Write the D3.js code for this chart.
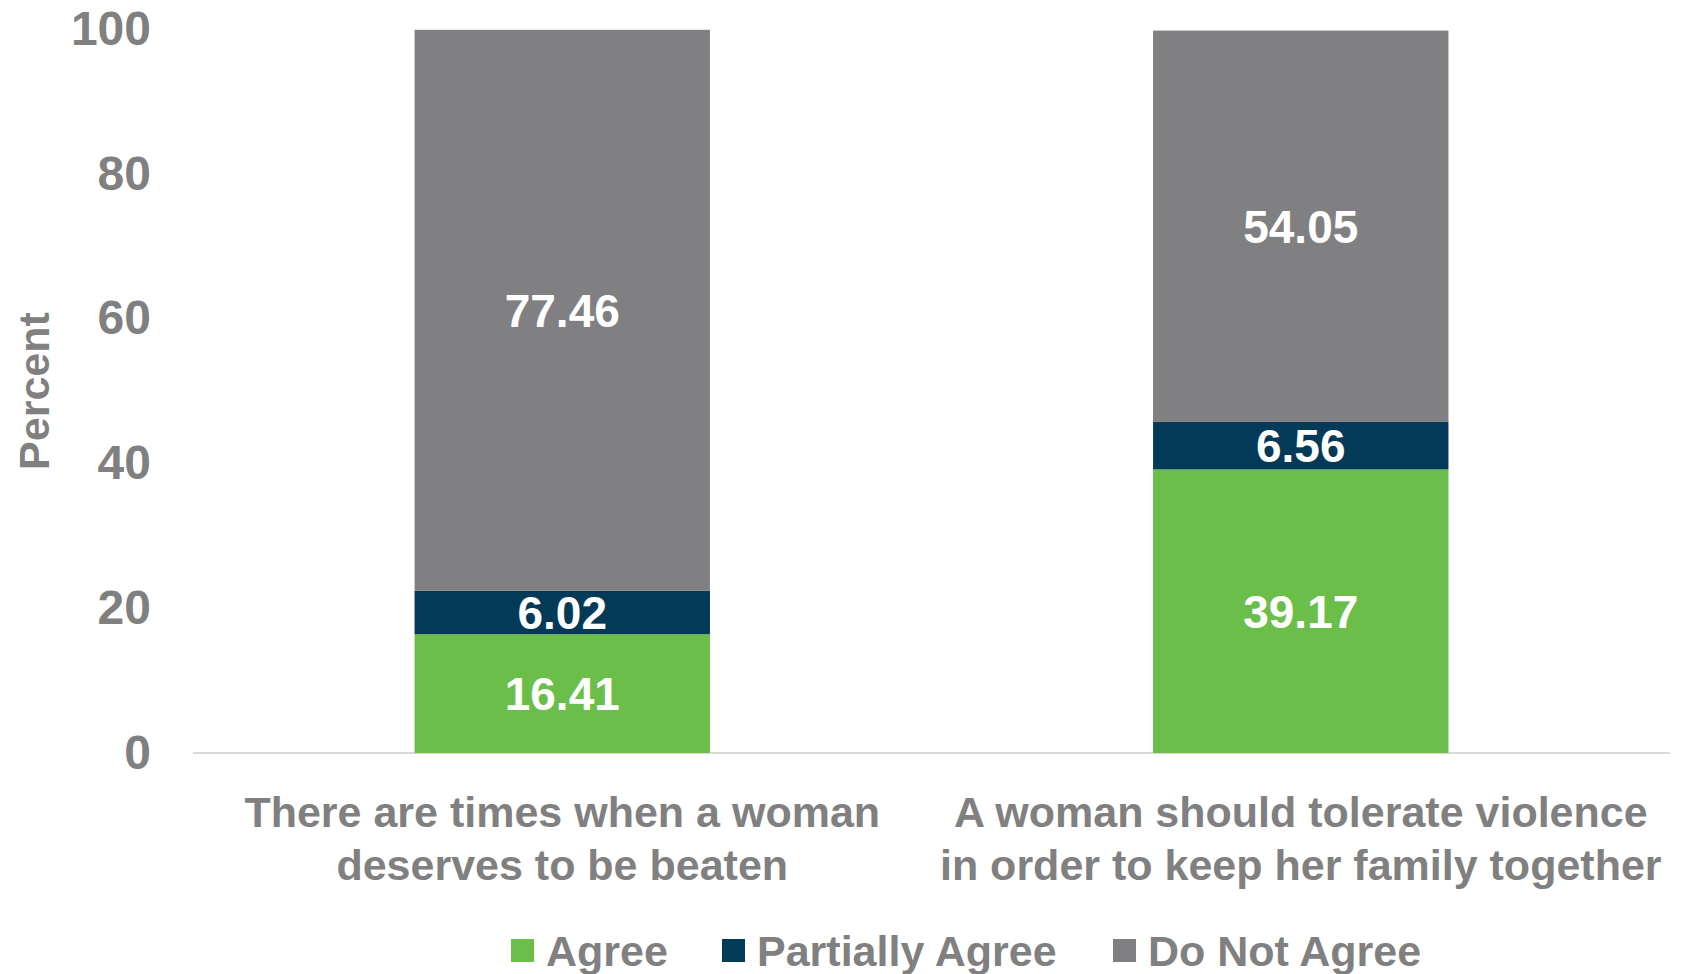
<!DOCTYPE html>
<html>
<head>
<meta charset="utf-8">
<script src="https://cdn.jsdelivr.net/npm/d3@7"></script>
<style>
  body { margin: 0; background: #fff; }
  svg text { font-family: "Liberation Sans", Arial, sans-serif; }
</style>
</head>
<body>
<div id="chart"></div>
<script>
// data
var categories = [
  ["There are times when a woman", "deserves to be beaten"],
  ["A woman should tolerate violence", "in order to keep her family together"]
];
var seriesNames = ["Agree", "Partially Agree", "Do Not Agree"];
var agree = [16.41, 39.17];
var partially = [6.02, 6.56];
var notAgree = [77.46, 54.05];
var yTicks = [0, 20, 40, 60, 80, 100];

var colors = ["#6cbe4b", "#033a57", "#808082"];
var textGray = "#808080";

var width = 1684, height = 974;
var margin = {left: 193, right: 14, top: 29, bottom: 221};

var svg = d3.select("#chart").append("svg")
  .attr("width", width)
  .attr("height", height);

var x = d3.scaleBand()
  .domain(d3.range(categories.length))
  .range([margin.left, width - margin.right])
  .paddingInner(0.6)
  .paddingOuter(0.3);

var y = d3.scaleLinear()
  .domain([0, 100])
  .range([height - margin.bottom, margin.top]);

// stacked table
var table = categories.map(function(c, i){
  return {i: i, "Agree": agree[i], "Partially Agree": partially[i], "Do Not Agree": notAgree[i]};
});
var stacked = d3.stack().keys(seriesNames)(table);

// baseline
svg.append("line")
  .attr("x1", margin.left)
  .attr("x2", width - margin.right)
  .attr("y1", y(0))
  .attr("y2", y(0))
  .attr("stroke", "#d9d9d9")
  .attr("stroke-width", 2);

// y axis labels only
var yAxis = d3.axisLeft(y).tickValues(yTicks).tickSize(0).tickPadding(0);
var yg = svg.append("g")
  .attr("transform", "translate(" + 151 + ",0)")
  .call(yAxis);
yg.select(".domain").remove();
yg.selectAll("text")
  .attr("fill", textGray)
  .style("font-size", "48px")
  .style("font-weight", "bold");

// y title
svg.append("text")
  .attr("transform", "translate(49," + y(50) + ") rotate(-90)")
  .attr("text-anchor", "middle")
  .attr("fill", textGray)
  .style("font-size", "43px")
  .style("font-weight", "bold")
  .text("Percent");

// bars
var layers = svg.selectAll(".layer").data(stacked).enter().append("g")
  .attr("class", "layer")
  .attr("fill", function(d, k){ return colors[k]; });

layers.selectAll("rect").data(function(d){ return d; }).enter().append("rect")
  .attr("x", function(d){ return x(d.data.i); })
  .attr("width", x.bandwidth())
  .attr("y", function(d){ return y(d[1]); })
  .attr("height", function(d){ return y(d[0]) - y(d[1]); });

// value labels
layers.selectAll("text").data(function(d){ return d; }).enter().append("text")
  .attr("x", function(d){ return x(d.data.i) + x.bandwidth() / 2; })
  .attr("y", function(d){ return y((d[0] + d[1]) / 2); })
  .attr("dy", "0.36em")
  .attr("text-anchor", "middle")
  .attr("fill", "#fff")
  .style("font-size", "46px")
  .style("font-weight", "bold")
  .text(function(d){ return (d[1] - d[0]).toFixed(2); });

// category labels
var catG = svg.selectAll(".cat").data(categories).enter().append("text")
  .attr("class", "cat")
  .attr("text-anchor", "middle")
  .attr("fill", textGray)
  .style("font-size", "43px")
  .style("font-weight", "bold");
catG.selectAll("tspan").data(function(d, i){ return d.map(function(s){ return {s: s, i: i}; }); })
  .enter().append("tspan")
  .attr("x", function(d){ return x(d.i) + x.bandwidth() / 2; })
  .attr("y", function(d, j){ return y(0) + 74 + j * 53; })
  .text(function(d){ return d.s; });

// legend
var legendX = [511, 722, 1113];
var lg = svg.selectAll(".legend").data(seriesNames).enter().append("g")
  .attr("class", "legend")
  .attr("transform", function(d, k){ return "translate(" + legendX[k] + ",951)"; });
lg.append("rect")
  .attr("x", 0)
  .attr("y", -12)
  .attr("width", 23)
  .attr("height", 23)
  .attr("fill", function(d, k){ return colors[k]; });
lg.append("text")
  .attr("x", 35)
  .attr("dy", "0.36em")
  .attr("fill", textGray)
  .style("font-size", "43px")
  .style("font-weight", "bold")
  .text(function(d){ return d; });
</script>
</body>
</html>
